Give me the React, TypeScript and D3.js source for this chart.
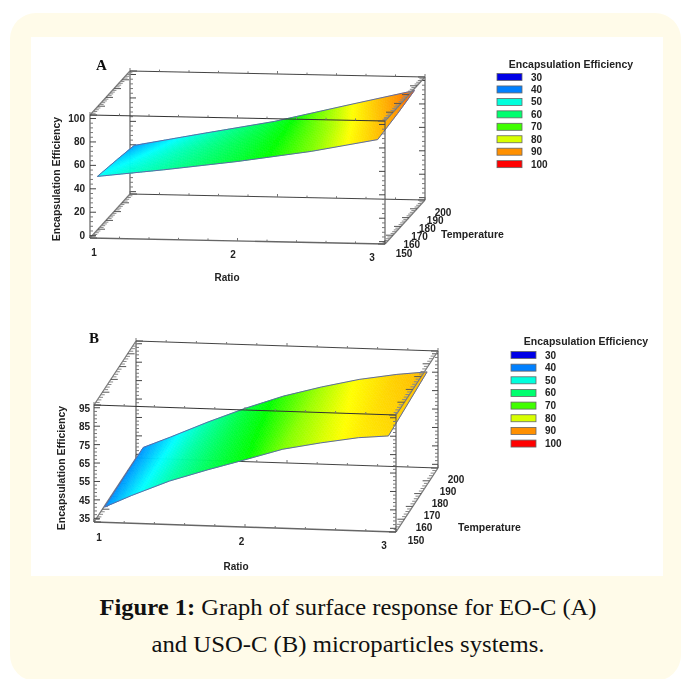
import React from "react";
import * as d3 from "d3";

const ratioTicks = [1, 2, 3];
const tempTicks = [150, 160, 170, 180, 190, 200];
const eeTicksA = [0, 20, 40, 60, 80, 100];
const eeTicksB = [35, 45, 55, 65, 75, 85, 95];
const legendValues = [30, 40, 50, 60, 70, 80, 90, 100];
const legendColors = ["#0000e6", "#0080ff", "#00ffdc", "#00ff6e", "#40ff00", "#d8ff00", "#ff9000", "#ff0000"];

// stops of the surface shading, purer than the legend swatches
const shadeStops = [30, 40, 50, 60, 70, 82, 91, 100];
const shadeColors = ["#0000ff", "#0080ff", "#00ffff", "#00ff80", "#00ff00", "#ffff00", "#ff9000", "#ff0000"];

// surface samples: one row per temperature, one value per ratio
const surfaceRatioA = [1.05, 1.5, 2, 2.5, 2.95];
const surfaceTempA = [150, 175, 196];
const surfaceValuesA = [
  [50.7, 57.5, 65.9, 75.8, 87.0],
  [46.5, 55.9, 65.9, 77.9, 90.5],
  [42.6, 53.6, 65.5, 80.8, 94.3],
];
const surfaceRatioB = [1.07, 1.25, 1.5, 1.75, 2, 2.25, 2.5, 2.75, 2.95];
const surfaceTempB = [150, 173, 196];
const surfaceValuesB = [
  [41.3, 48.1, 56.6, 63.3, 69.5, 75.9, 80.0, 83.5, 85.0],
  [41.5, 48.0, 56.7, 64.1, 70.8, 76.8, 81.2, 84.7, 86.4],
  [41.7, 47.8, 56.7, 64.9, 72.1, 77.7, 82.5, 85.9, 87.8],
];

const FONT = "'Liberation Sans', Arial, sans-serif";

const colorScale = d3
  .scaleLinear<string>()
  .domain(shadeStops)
  .range(shadeColors)
  .interpolate(d3.interpolateRgb)
  .clamp(true);

function SurfacePlot({ cfg }: { cfg: any }) {
  const rX = d3.scaleLinear().domain([1, 3]).range([0, cfg.ratioVec[0]]);
  const rY = d3.scaleLinear().domain([1, 3]).range([0, cfg.ratioVec[1]]);
  const tX = d3.scaleLinear().domain([150, 200]).range([0, cfg.tempVec[0]]);
  const tY = d3.scaleLinear().domain([150, 200]).range([0, cfg.tempVec[1]]);
  const eY = d3.scaleLinear().domain(cfg.eeDomain).range([0, -cfg.height]);
  const [e0, e1] = cfg.eeDomain;

  const project = (r: number, t: number, e: number): [number, number] => [
    cfg.origin[0] + rX(r) + tX(t),
    cfg.origin[1] + rY(r) + tY(t) + eY(e),
  ];

  const seg = (a: [number, number], b: [number, number], key: string, stroke = "#3c3c3c", w = 1) => (
    <line key={key} x1={a[0]} y1={a[1]} x2={b[0]} y2={b[1]} stroke={stroke} strokeWidth={w} />
  );

  const back: any[] = [];
  const front: any[] = [];

  // vertical edges with inward ticks
  const vertical = (r: number, t: number, dir: number, out: any[], name: string) => {
    out.push(seg(project(r, t, e0), project(r, t, e1), name, "#555", 1.1));
    d3.range(cfg.eeFirst, e1 + 0.01, cfg.eeMinor).forEach((e: number, i: number) => {
      const p = project(r, t, e);
      const major = i % cfg.eeMajorEvery === 0;
      out.push(seg(p, [p[0] + dir * (major ? 6 : 3), p[1]], name + i, major ? "#444" : "#777", 1));
    });
  };
  vertical(1, 200, 1, back, "bl");
  vertical(3, 200, -1, back, "br");
  vertical(1, 150, 1, front, "fl");
  vertical(3, 150, -1, front, "fr");

  // ratio edges
  const ratioEdge = (t: number, e: number, out: any[], name: string, stroke: string, w: number) => {
    out.push(seg(project(1, t, e), project(3, t, e), name, stroke, w));
    d3.range(1, 3.01, 0.2).forEach((r: number, i: number) => {
      const p = project(r, t, e);
      out.push(seg(p, [p[0], p[1] - (i % 5 === 0 ? 3 : 2)], name + i, "#777", 1));
    });
  };
  ratioEdge(200, e1, back, "tb", "#444", 1);
  ratioEdge(200, e0, back, "bb", "#444", 1);
  ratioEdge(150, e0, back, "bf", "#666", 1.4);
  ratioEdge(150, e1, front, "tf", "#333", 1);

  // temperature edges, ticks run sideways from the edge
  const tempEdge = (r: number, e: number, dir: number, out: any[], name: string) => {
    out.push(seg(project(r, 150, e), project(r, 200, e), name, "#777", 1.3));
    d3.range(150, 200.01, 2).forEach((t: number, i: number) => {
      const p = project(r, t, e);
      const len = i % 5 === 0 ? 7 : 4;
      out.push(seg(p, [p[0] + dir * len, p[1]], name + i, i % 5 === 0 ? "#555" : "#888", 1));
    });
  };
  tempEdge(1, e0, 1, back, "tl0");
  tempEdge(3, e0, -1, back, "tr0");
  tempEdge(1, e1, 1, back, "tl1");
  tempEdge(3, e1, -1, front, "tr1");

  // colour mesh: each sampled cell is shaded in small facets
  const rs: number[] = cfg.surfaceRatio;
  const ts: number[] = cfg.surfaceTemp;
  const vals: number[][] = cfg.surfaceValues;
  const steps = cfg.facetSteps;
  const facets: any[] = [];
  const at = (i: number, j: number, u: number, v: number) => {
    const r = rs[j] + (rs[j + 1] - rs[j]) * u;
    const t = ts[i] + (ts[i + 1] - ts[i]) * v;
    const e0v = vals[i][j] + (vals[i][j + 1] - vals[i][j]) * u;
    const e1v = vals[i + 1][j] + (vals[i + 1][j + 1] - vals[i + 1][j]) * u;
    return { p: project(r, t, e0v + (e1v - e0v) * v), e: e0v + (e1v - e0v) * v };
  };
  for (let i = 0; i < ts.length - 1; i++) {
    for (let j = 0; j < rs.length - 1; j++) {
      for (let a = 0; a < steps; a++) {
        for (let b = 0; b < 12; b++) {
          const q = [
            at(i, j, a / steps, b / 12),
            at(i, j, (a + 1) / steps, b / 12),
            at(i, j, (a + 1) / steps, (b + 1) / 12),
            at(i, j, a / steps, (b + 1) / 12),
          ];
          const c = colorScale(d3.mean(q, (d) => d.e) as number);
          facets.push(
            <polygon
              key={`${i}-${j}-${a}-${b}`}
              points={q.map((d) => d.p.join(",")).join(" ")}
              fill={c}
              stroke={c}
              strokeWidth={0.6}
            />
          );
        }
      }
    }
  }

  const outline: [number, number][] = [
    ...rs.map((r, j) => project(r, ts[0], vals[0][j])),
    ...ts.slice(1).map((t, i) => project(rs[rs.length - 1], t, vals[i + 1][rs.length - 1])),
    ...rs
      .map((r, j) => project(r, ts[ts.length - 1], vals[ts.length - 1][j]))
      .reverse(),
    ...ts
      .slice(1, -1)
      .reverse()
      .map((t) => project(rs[0], t, vals[ts.indexOf(t)][0])),
  ];

  const tickLabelR = d3.scaleLinear().domain([1, 3]).range(cfg.ratioLabelX);
  const tickLabelRY = d3.scaleLinear().domain([1, 3]).range(cfg.ratioLabelY);
  const tickLabelTX = d3.scaleLinear().domain([150, 200]).range(cfg.tempLabelX);
  const tickLabelTY = d3.scaleLinear().domain([150, 200]).range(cfg.tempLabelY);
  const eeLabelY = (e: number) => project(1, 150, e)[1] + cfg.eeLabelDy;

  const labelProps = { fontFamily: FONT, fontWeight: 700, fontSize: 10, fill: "#222" };

  return (
    <g>
      {back}
      {facets}
      <path d={d3.line()(outline) + "Z"} fill="none" stroke="#5b6aa8" strokeWidth={1} />
      {front}

      {cfg.eeTicks.map((e: number) => (
        <text key={e} x={cfg.eeLabelX} y={eeLabelY(e)} textAnchor="end" dominantBaseline="central" {...labelProps}>
          {e}
        </text>
      ))}
      {ratioTicks.map((r) => (
        <text key={r} x={tickLabelR(r)} y={tickLabelRY(r)} textAnchor="middle" dominantBaseline="central" {...labelProps}>
          {r}
        </text>
      ))}
      {tempTicks.map((t) => (
        <text key={t} x={tickLabelTX(t)} y={tickLabelTY(t)} textAnchor="middle" dominantBaseline="central" {...labelProps}>
          {t}
        </text>
      ))}

      <text
        transform={`translate(${cfg.eeTitle[0]},${cfg.eeTitle[1]}) rotate(-90)`}
        textAnchor="middle"
        dominantBaseline="central"
        {...labelProps}
        fontSize={10.5}
      >
        Encapsulation Efficiency
      </text>
      <text x={cfg.ratioTitle[0]} y={cfg.ratioTitle[1]} textAnchor="middle" dominantBaseline="central" {...labelProps}>
        Ratio
      </text>
      <text x={cfg.tempTitle[0]} y={cfg.tempTitle[1]} dominantBaseline="central" {...labelProps} fontSize={10.5}>
        Temperature
      </text>
      <text
        x={cfg.letter[1]}
        y={cfg.letter[2]}
        fontFamily="'Liberation Serif', serif"
        fontWeight={700}
        fontSize={15}
        fill="#111"
      >
        {cfg.letter[0]}
      </text>

      <text x={cfg.legendTitle[0]} y={cfg.legendTitle[1]} textAnchor="middle" dominantBaseline="central" {...labelProps} fontSize={10.5}>
        Encapsulation Efficiency
      </text>
      {legendValues.map((v, i) => {
        const y = cfg.legendY + i * cfg.legendStep;
        return (
          <g key={v}>
            <rect x={cfg.legendX} y={y - 3.5} width={25} height={7} fill={legendColors[i]} stroke="#666" strokeWidth={0.8} />
            <text x={cfg.legendX + 34} y={y} dominantBaseline="central" {...labelProps}>
              {v}
            </text>
          </g>
        );
      })}
    </g>
  );
}

const chartA = {
  origin: [90, 238],
  ratioVec: [295, 6],
  tempVec: [40, -44],
  height: 123,
  eeDomain: [-2, 103],
  eeFirst: 0,
  eeMinor: 4,
  eeMajorEvery: 5,
  eeTicks: eeTicksA,
  eeLabelX: 85,
  eeLabelDy: -0.5,
  surfaceRatio: surfaceRatioA,
  surfaceTemp: surfaceTempA,
  surfaceValues: surfaceValuesA,
  facetSteps: 24,
  ratioLabelX: [94, 372],
  ratioLabelY: [252, 257],
  tempLabelX: [404, 443],
  tempLabelY: [253, 212],
  eeTitle: [56, 179],
  ratioTitle: [227, 277],
  tempTitle: [441, 234],
  letter: ["A", 96, 70],
  legendTitle: [571, 64],
  legendX: 497,
  legendY: 77,
  legendStep: 12.45,
};

const chartB = {
  origin: [94, 522],
  ratioVec: [302, 10],
  tempVec: [42, -64],
  height: 117,
  eeDomain: [33, 96.5],
  eeFirst: 35,
  eeMinor: 2,
  eeMajorEvery: 5,
  eeTicks: eeTicksB,
  eeLabelX: 90,
  eeLabelDy: 0.5,
  surfaceRatio: surfaceRatioB,
  surfaceTemp: surfaceTempB,
  surfaceValues: surfaceValuesB,
  facetSteps: 12,
  ratioLabelX: [99, 384],
  ratioLabelY: [537, 545],
  tempLabelX: [416, 456],
  tempLabelY: [540, 479],
  eeTitle: [61, 468],
  ratioTitle: [236, 566],
  tempTitle: [458, 527],
  letter: ["B", 89, 343],
  legendTitle: [586, 341],
  legendX: 511,
  legendY: 355,
  legendStep: 12.65,
};

export default function App() {
  return (
    <svg width={690} height={679} style={{ position: "absolute", left: 0, top: 0 }}>
      <defs>
        <filter id="soft" x="0" y="0" width="100%" height="100%">
          <feGaussianBlur stdDeviation={0.4} />
        </filter>
      </defs>
      <rect width={690} height={679} fill="#fff" />
      <rect x={10} y={13} width={671} height={668} rx={26} fill="#fffbe9" />
      <rect x={31} y={37} width={632} height={539} fill="#fff" />
      <g filter="url(#soft)">
        <SurfacePlot cfg={chartA} />
        <SurfacePlot cfg={chartB} />
      </g>
      <text
        x={348}
        y={615}
        textAnchor="middle"
        fontFamily="'Liberation Serif', serif"
        fontSize={24}
        fill="#111"
        textLength={497}
        lengthAdjust="spacingAndGlyphs"
      >
        <tspan fontWeight={700}>Figure 1:</tspan> Graph of surface response for EO-C (A)
      </text>
      <text
        x={348}
        y={652}
        textAnchor="middle"
        fontFamily="'Liberation Serif', serif"
        fontSize={24}
        fill="#111"
        textLength={393}
        lengthAdjust="spacingAndGlyphs"
      >
        and USO-C (B) microparticles systems.
      </text>
    </svg>
  );
}
